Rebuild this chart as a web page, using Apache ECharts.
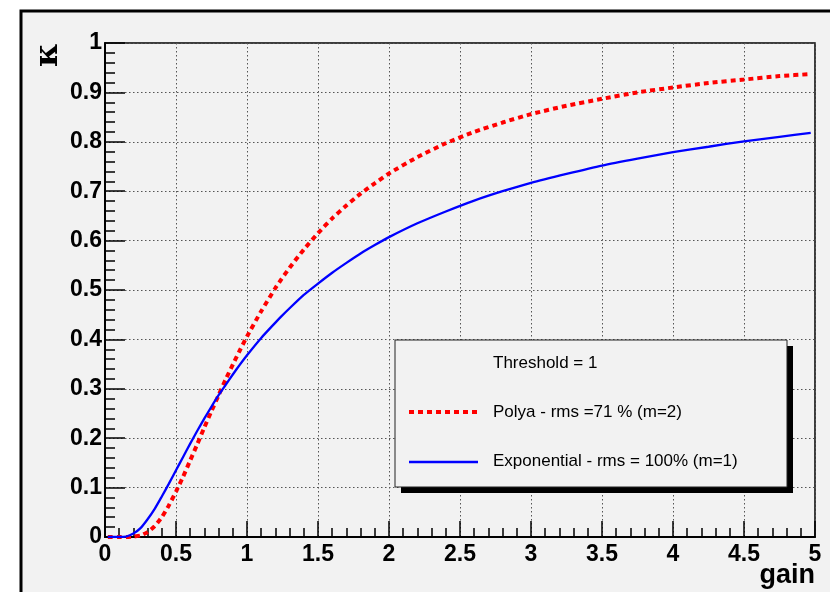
<!DOCTYPE html>
<html>
<head>
<meta charset="utf-8">
<script src="https://cdn.jsdelivr.net/npm/echarts@6/dist/echarts.min.js"></script>
<style>
html,body{margin:0;padding:0;background:#ffffff;}
#chart{width:830px;height:592px;}
</style>
</head>
<body>
<div id="chart"></div>
<script>
// gain values (x)
var gainX = [0.02,0.05,0.1,0.15,0.2,0.25,0.3,0.35,0.4,0.45,0.5,0.55,0.6,0.65,0.7,0.75,0.8,0.85,0.9,0.95,1.0,1.1,1.2,1.24,1.3,1.4,1.5,1.6,1.7,1.8,1.9,2.0,2.2,2.4,2.6,2.8,3.0,3.25,3.5,3.75,4.0,4.25,4.5,4.75,4.97];
// Polya (m=2) efficiency
var polyaY = [0,0,0,0,0.001,0.003,0.010,0.022,0.040,0.064,0.092,0.122,0.155,0.188,0.222,0.255,0.287,0.319,0.349,0.378,0.406,0.457,0.504,0.521,0.545,0.582,0.615,0.645,0.671,0.695,0.716,0.736,0.769,0.797,0.820,0.839,0.856,0.873,0.887,0.900,0.910,0.919,0.926,0.933,0.937];
// Exponential (m=1) efficiency
var expY = [0,0,0,0.001,0.007,0.018,0.036,0.057,0.082,0.108,0.135,0.162,0.189,0.215,0.240,0.264,0.287,0.308,0.329,0.349,0.368,0.403,0.434,0.446,0.463,0.490,0.513,0.535,0.555,0.574,0.591,0.607,0.635,0.659,0.681,0.700,0.717,0.735,0.752,0.766,0.779,0.790,0.801,0.810,0.818];
var xTicks = [0,0.5,1,1.5,2,2.5,3,3.5,4,4.5,5];
var yTicks = [0,0.1,0.2,0.3,0.4,0.5,0.6,0.7,0.8,0.9,1];
var seriesNames = ['Polya - rms =71 % (m=2)', 'Exponential - rms = 100% (m=1)'];
var legendTitle = 'Threshold = 1';

function pairs(xs, ys){ return xs.map(function(x,i){ return [x, ys[i]]; }); }

var chart = echarts.init(document.getElementById('chart'), null, {renderer:'canvas'});
var labelFont = {fontFamily:'Liberation Sans', fontWeight:'bold', fontSize:23, color:'#000'};
var legFont = {fontFamily:'Liberation Sans', fontSize:17, fill:'#000', verticalAlign:'middle'};
var option = {
  animation:false,
  backgroundColor:'#ffffff',
  graphic:[
    {type:'rect', z:-10, silent:true, shape:{x:21, y:11, width:900, height:700}, style:{fill:'#f2f2f2', stroke:'#000', lineWidth:3}},
    {type:'rect', z:5, shape:{x:401, y:346, width:392, height:147}, style:{fill:'#000'}},
    {type:'rect', z:6, shape:{x:395, y:340, width:392, height:147}, style:{fill:'#f2f2f2', stroke:'#222', lineWidth:1}},
    {type:'text', z:7, x:493, y:363, style:Object.assign({text:legendTitle}, legFont)},
    {type:'line', z:7, shape:{x1:409, y1:412, x2:478, y2:412}, style:{stroke:'#ff0000', lineWidth:4, lineDash:[5,4]}},
    {type:'text', z:7, x:493, y:412, style:Object.assign({text:seriesNames[0]}, legFont)},
    {type:'line', z:7, shape:{x1:409, y1:462, x2:478, y2:462}, style:{stroke:'#0000ff', lineWidth:2.3}},
    {type:'text', z:7, x:493, y:461, style:Object.assign({text:seriesNames[1]}, legFont)},
    {type:'text', z:7, x:815, y:576, style:{text:'gain', fontFamily:'Liberation Sans', fontWeight:'bold', fontSize:27, fill:'#000', align:'right', verticalAlign:'middle'}},
    {type:'text', z:7, x:49, y:55, rotation:Math.PI/2, style:{text:'\u03ba', fontFamily:'DejaVu Serif', fontWeight:'bold', fontSize:32, fill:'#000', align:'center', verticalAlign:'middle'}}
  ],
  grid:{left:105, top:43, right:15, bottom:55, show:true, backgroundColor:'transparent', borderColor:'#000', borderWidth:1.5},
  xAxis:{
    type:'value', min:0, max:5, interval:0.5,
    axisLine:{show:true, onZero:false, lineStyle:{color:'#000', width:2}},
    axisTick:{show:true, inside:true, length:16, lineStyle:{color:'#000', width:1.5}},
    minorTick:{show:true, splitNumber:5, length:9, lineStyle:{color:'#000', width:1.5}},
    axisLabel:Object.assign({margin:6, formatter:function(v){ var r=Math.round(v*10)/10; return xTicks.indexOf(r)>=0 ? String(r) : ''; }}, labelFont),
    splitLine:{show:true, lineStyle:{color:'#555', width:1, type:[1.5,2.5]}}
  },
  yAxis:{
    type:'value', min:0, max:1, interval:0.1,
    axisLine:{show:true, onZero:false, lineStyle:{color:'#000', width:2}},
    axisTick:{show:true, inside:true, length:20, lineStyle:{color:'#000', width:1.5}},
    minorTick:{show:true, splitNumber:5, length:10, lineStyle:{color:'#000', width:1.5}},
    axisLabel:Object.assign({margin:3, formatter:function(v){ var r=Math.round(v*10)/10; return yTicks.indexOf(r)>=0 ? String(r) : ''; }}, labelFont),
    splitLine:{show:true, lineStyle:{color:'#555', width:1, type:[1.5,2.5]}}
  },
  series:[
    {name:seriesNames[0], type:'line', data:pairs(gainX, polyaY), showSymbol:false, symbol:'none', smooth:0.2, z:3,
     lineStyle:{color:'#ff0000', width:4, type:[5,4]}, itemStyle:{color:'#ff0000'}},
    {name:seriesNames[1], type:'line', data:pairs(gainX, expY), showSymbol:false, symbol:'none', smooth:0.2, z:3,
     lineStyle:{color:'#0000ff', width:2.3}, itemStyle:{color:'#0000ff'}}
  ]
};
chart.setOption(option);
</script>
</body>
</html>
